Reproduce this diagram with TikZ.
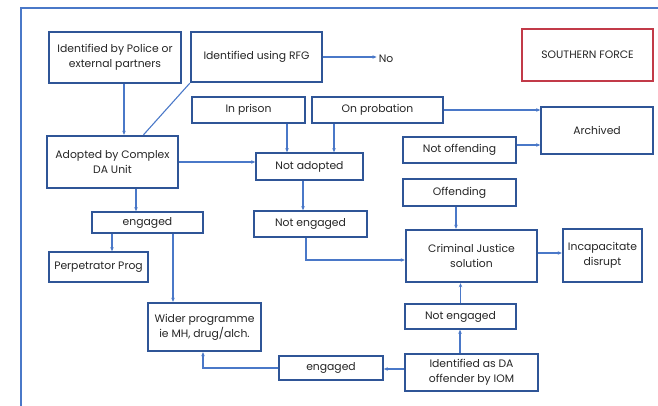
\documentclass[tikz,border=0pt]{standalone}
\usepackage{fontspec}
\setmainfont{Poppins}
\usetikzlibrary{arrows.meta,calc,positioning}
\definecolor{Ink}{HTML}{262626}
\definecolor{Frame}{HTML}{4A78C8}
\definecolor{Edge}{HTML}{2F5597}
\definecolor{Line}{HTML}{4A78C8}
\definecolor{Alert}{HTML}{C23A48}
\tikzset{
  box/.style={draw=Edge,line width=1.6pt,fill=white,text=Ink,align=center,
    font=\fontsize{10.8}{15}\selectfont,inner sep=1pt},
  boxb/.style={box,line width=2.4pt},
  conn/.style={draw=Line,line width=1.1pt,-{Stealth[length=4pt,width=3.5pt]}},
}

\begin{document}
\begin{tikzpicture}[x=1pt,y=-1pt]
        \useasboundingbox (0,0) rectangle (658,406);
        \draw[Frame,line width=1.2pt] (658,8)--(21,8)--(21,406);
        % top row
        \node[boxb,minimum width=132pt,minimum height=51pt] (police) at (115,57.5) {Identified by Police or\\external partners};
        \node[boxb,minimum width=131pt,minimum height=50pt] (rfg) at (256.5,57) {Identified using RFG};
        \node[font=\fontsize{10.8}{15}\selectfont,text=Ink,inner sep=2pt] (no) at (386,59) {No};
        \node[box,draw=Alert,line width=2pt,minimum width=131pt,minimum height=52pt] (force) at (587.5,55) {SOUTHERN FORCE};
        \node[box,minimum width=113pt,minimum height=26pt] (prison) at (248.5,110) {In prison};
        \node[box,minimum width=131pt,minimum height=26pt] (probation) at (377.5,110) {On probation};
        \node[box,minimum width=112pt,minimum height=47pt] (archived) at (597,130.5) {Archived};
        % middle
        \node[boxb,minimum width=131pt,minimum height=52pt] (adopted) at (112.5,162) {Adopted by Complex\\DA Unit};
        \node[box,minimum width=107pt,minimum height=27pt] (notadopted) at (309.5,166.5) {Not adopted};
        \node[box,minimum width=113pt,minimum height=26pt] (notoff) at (459.5,150) {Not offending};
        \node[box,minimum width=113pt,minimum height=27pt] (offending) at (459.5,192.5) {Offending};
        \node[box,minimum width=111pt,minimum height=21pt] (engleft) at (147.5,222.5) {engaged};
        \node[box,minimum width=113pt,minimum height=26pt] (noteng) at (310.5,224) {Not engaged};
        \node[boxb,minimum width=131pt,minimum height=52pt] (cjs) at (471.5,256) {Criminal Justice\\solution};
        \node[boxb,minimum width=79pt,minimum height=53pt] (incap) at (602.5,255.5) {Incapacitate\\disrupt};
        % bottom
        \node[box,minimum width=99pt,minimum height=30pt] (perp) at (98.5,267) {Perpetrator Prog};
        \node[boxb,minimum width=113pt,minimum height=48pt] (wider) at (204.5,327) {Wider programme\\ie MH, drug/alch.};
        \node[box,minimum width=111pt,minimum height=25pt] (notengr) at (460.5,316.5) {Not engaged};
        \node[box,minimum width=104pt,minimum height=24pt] (engbot) at (331,368) {engaged};
        \node[boxb,minimum width=133pt,minimum height=37pt] (iom) at (471.5,372.5) {Identified as DA\\offender by IOM};
        % connectors
        \draw[conn] ([xshift=9pt]police.south) -- ([xshift=9pt]police.south |- adopted.north);
        \draw[draw=Line,line width=1.1pt] (rfg.south west) -- ([xshift=31pt]adopted.north);
        \draw[conn] (rfg.east) -- (rfg.east -| no.west);
        \draw[conn] (adopted.east) -- (adopted.east -| notadopted.west);
        \draw[conn] ([xshift=-22.5pt]notadopted.north |- prison.south) -- ([xshift=-22.5pt]notadopted.north);
        \draw[conn] ([xshift=24.5pt]notadopted.north |- probation.south) -- ([xshift=24.5pt]notadopted.north);
        \draw[conn] (probation.east) -- (probation.east -| archived.west);
        \draw[conn] ([yshift=5pt]notoff.east) -- ([yshift=5pt]notoff.east -| archived.west);
        \draw[conn] ([xshift=-6.5pt]notadopted.south) -- ([xshift=-6.5pt]notadopted.south |- noteng.north);
        \draw[conn] ([xshift=-4.5pt]noteng.south) |- ([yshift=-4pt]cjs.west);
        \draw[conn] ([xshift=-3.5pt]offending.south) -- ([xshift=-3.5pt]offending.south |- cjs.north);
        \draw[conn] ([yshift=3pt]cjs.east) -- ([yshift=3pt]cjs.east -| incap.west);
        \draw[conn] (notengr.north) -- (notengr.north |- cjs.south);
        \draw[conn] ([xshift=-11.5pt]iom.north) -- ([xshift=-11.5pt]iom.north |- notengr.south);
        \draw[conn] ([yshift=3.5pt]iom.west) -- ([yshift=3.5pt]iom.west -| engbot.east);
        \draw[conn] (engbot.west) -| ([xshift=-1.5pt]wider.south);
        \draw[conn] ([xshift=23.5pt]adopted.south) -- ([xshift=23.5pt]adopted.south |- engleft.north);
        \draw[conn] ([xshift=-35.5pt]engleft.south) -- ([xshift=-35.5pt]engleft.south |- perp.north);
        \draw[conn] ([xshift=25.5pt]engleft.south) -- ([xshift=25.5pt]engleft.south |- wider.north);
\end{tikzpicture}
\end{document}
